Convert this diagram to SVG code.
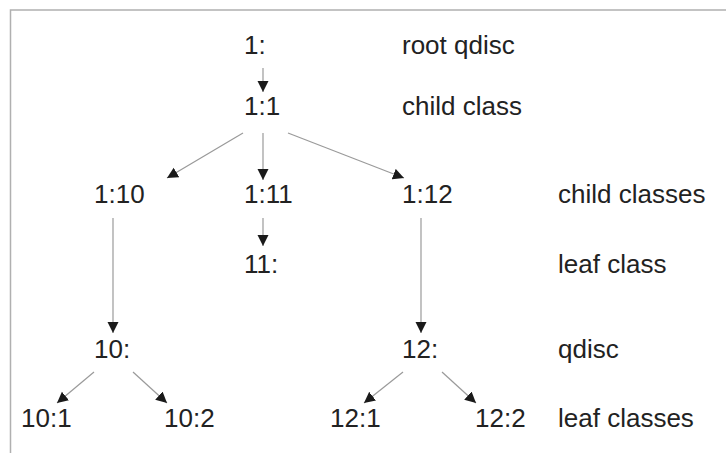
<svg xmlns="http://www.w3.org/2000/svg" width="726" height="453" viewBox="0 0 726 453">
  <style>
    .lbl { font-family: "Liberation Sans", Arial, sans-serif; font-size: 26px; fill: #222; }
    .edge { stroke: #9a9a9a; stroke-width: 1.2; fill: none; marker-end: url(#head); }
    .frame { stroke: #b0b0b0; stroke-width: 1.5; fill: none; }
  </style>
  <defs>
    <marker id="head" markerUnits="userSpaceOnUse" markerWidth="12" markerHeight="12" refX="11" refY="5.5" orient="auto">
      <path d="M0,0 L11,5.5 L0,11 z" fill="#1a1a1a"/>
    </marker>
  </defs>

  <rect width="726" height="453" fill="#ffffff"/>
  <!-- frame edges (top and left) -->
  <path class="frame" d="M10.5,453 L10.5,10 L726,10"/>

  <!-- connectors -->
  <g id="connectors">
    <line class="edge" x1="263" y1="68" x2="263" y2="92"/>
    <line class="edge" x1="243" y1="133" x2="167" y2="178"/>
    <line class="edge" x1="263" y1="133" x2="263" y2="180"/>
    <line class="edge" x1="288" y1="133" x2="404" y2="178"/>
    <line class="edge" x1="263" y1="218" x2="263" y2="246"/>
    <line class="edge" x1="113" y1="218" x2="113" y2="333"/>
    <line class="edge" x1="421" y1="218" x2="421" y2="333"/>
    <line class="edge" x1="94" y1="372" x2="57" y2="403"/>
    <line class="edge" x1="133" y1="372" x2="167" y2="403"/>
    <line class="edge" x1="403" y1="372" x2="364" y2="403"/>
    <line class="edge" x1="442" y1="372" x2="476" y2="403"/>
  </g>

  <!-- tree nodes -->
  <g id="n-root"><text class="lbl" x="244" y="54">1:</text></g>
  <g id="n-1-1"><text class="lbl" x="244" y="115">1:1</text></g>
  <g id="n-1-10"><text class="lbl" x="94" y="203">1:10</text></g>
  <g id="n-1-11"><text class="lbl" x="244" y="203">1:11</text></g>
  <g id="n-1-12"><text class="lbl" x="402" y="203">1:12</text></g>
  <g id="n-11"><text class="lbl" x="244" y="273">11:</text></g>
  <g id="n-10"><text class="lbl" x="94" y="358">10:</text></g>
  <g id="n-12"><text class="lbl" x="402" y="358">12:</text></g>
  <g id="n-10-1"><text class="lbl" x="21" y="427">10:1</text></g>
  <g id="n-10-2"><text class="lbl" x="164" y="427">10:2</text></g>
  <g id="n-12-1"><text class="lbl" x="330" y="427">12:1</text></g>
  <g id="n-12-2"><text class="lbl" x="475" y="427">12:2</text></g>

  <!-- level descriptions -->
  <g id="legend">
    <text class="lbl" x="402" y="54">root qdisc</text>
    <text class="lbl" x="402" y="115">child class</text>
    <text class="lbl" x="558" y="203">child classes</text>
    <text class="lbl" x="558" y="273">leaf class</text>
    <text class="lbl" x="558" y="358">qdisc</text>
    <text class="lbl" x="558" y="427">leaf classes</text>
  </g>
</svg>
